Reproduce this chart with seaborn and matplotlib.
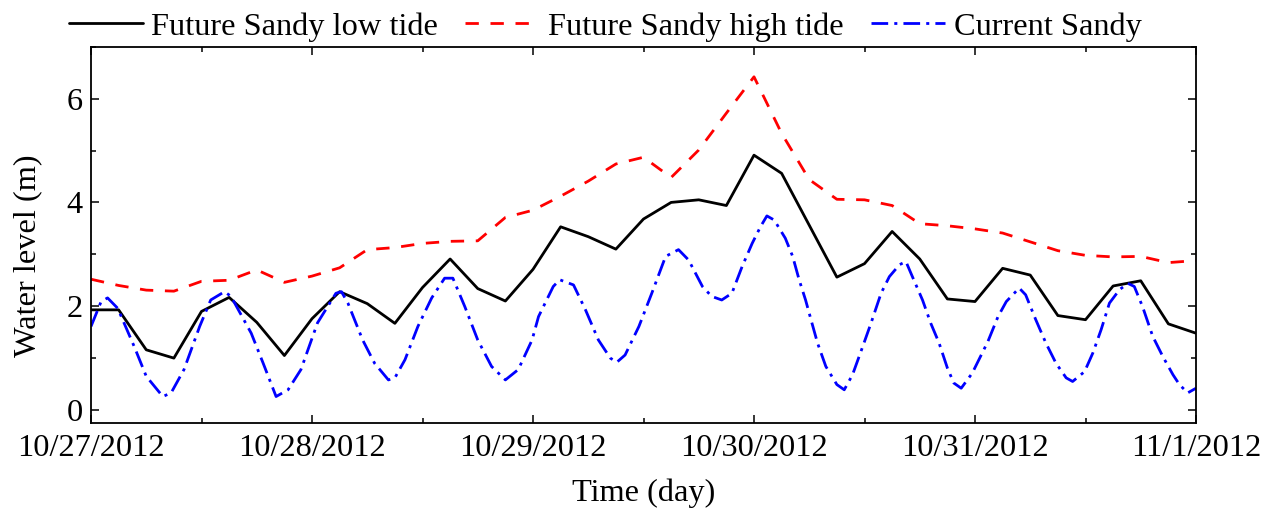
import matplotlib
matplotlib.use("Agg")
import matplotlib.pyplot as plt
import seaborn as sns
import pandas as pd
from matplotlib.ticker import MultipleLocator

# ---------------- data ----------------
day_labels = ["10/27/2012", "10/28/2012", "10/29/2012", "10/30/2012", "10/31/2012", "11/1/2012"]

# 3-hourly model output (hours since 10/27/2012 00:00)
tide_hours = list(range(0, 121, 3))
low_tide = [1.93, 1.93, 1.16, 1.00, 1.90, 2.17, 1.69, 1.05, 1.76, 2.28,
            2.05, 1.67, 2.36, 2.91, 2.34, 2.10, 2.71, 3.53, 3.34, 3.10,
            3.68, 4.00, 4.05, 3.94, 4.91, 4.56, 3.56, 2.56, 2.82, 3.44,
            2.91, 2.14, 2.09, 2.73, 2.60, 1.82, 1.74, 2.39, 2.49, 1.66, 1.48]
high_tide = [2.52, 2.40, 2.31, 2.29, 2.48, 2.50, 2.70, 2.46, 2.58, 2.74,
             3.09, 3.13, 3.21, 3.25, 3.26, 3.71, 3.85, 4.12, 4.41, 4.74,
             4.87, 4.48, 5.01, 5.72, 6.42, 5.33, 4.44, 4.06, 4.05, 3.94,
             3.59, 3.55, 3.49, 3.41, 3.24, 3.07, 2.98, 2.95, 2.96, 2.84, 2.88]

current_hours = [0.0, 1.1, 1.8, 2.9, 4.7, 6.0, 7.8, 8.7, 10.1, 11.8,
                 13.0, 14.5, 15.2, 17.4, 18.7, 20.1, 21.4, 22.8, 24.6, 26.6,
                 27.2, 27.9, 29.5, 30.8, 32.3, 33.0, 34.1, 35.5, 37.0, 38.4,
                 39.3, 40.6, 42.0, 43.5, 45.0, 46.4, 47.9, 48.6, 50.2, 50.9,
                 52.4, 53.7, 55.1, 56.4, 57.1, 58.0, 59.5, 60.9, 62.4, 63.8,
                 64.9, 66.4, 67.4, 68.5, 69.6, 70.7, 71.8, 72.7, 73.4, 74.2,
                 75.4, 76.2, 76.9, 77.6, 78.3, 78.9, 79.8, 81.0, 81.8, 82.7,
                 83.8, 84.7, 85.8, 86.7, 87.8, 88.5, 89.2, 90.3, 91.2, 92.1,
                 93.0, 93.7, 94.5, 95.7, 97.4, 98.5, 99.4, 100.8, 101.5, 102.6,
                 103.7, 104.8, 105.9, 106.6, 107.9, 108.8, 109.7, 110.6, 111.7, 112.6,
                 113.3, 114.2, 115.3, 116.4, 117.5, 118.2, 119.1, 120.0]
current_sandy = [1.61, 2.09, 2.16, 1.96, 1.22, 0.65, 0.26, 0.33, 0.78, 1.61,
                 2.12, 2.28, 2.19, 1.48, 0.90, 0.26, 0.39, 0.78, 1.68, 2.25,
                 2.28, 2.06, 1.35, 0.90, 0.58, 0.62, 0.97, 1.61, 2.16, 2.54,
                 2.54, 1.99, 1.35, 0.84, 0.58, 0.78, 1.35, 1.80, 2.38, 2.51,
                 2.41, 1.93, 1.35, 1.00, 0.92, 1.06, 1.61, 2.25, 2.96, 3.09,
                 2.89, 2.38, 2.19, 2.12, 2.25, 2.76, 3.21, 3.53, 3.74, 3.66,
                 3.31, 2.96, 2.51, 2.12, 1.67, 1.29, 0.84, 0.49, 0.39, 0.68,
                 1.22, 1.67, 2.25, 2.57, 2.80, 2.86, 2.57, 2.12, 1.67, 1.29,
                 0.81, 0.52, 0.42, 0.71, 1.32, 1.80, 2.09, 2.35, 2.22, 1.74,
                 1.29, 0.90, 0.62, 0.55, 0.74, 1.10, 1.55, 2.06, 2.32, 2.44,
                 2.38, 1.99, 1.42, 1.03, 0.68, 0.49, 0.33, 0.42]

series_names = ["Future Sandy low tide", "Future Sandy high tide", "Current Sandy"]

# ---------------- style ----------------
sns.set_style("ticks")
plt.rcParams["font.family"] = ["Liberation Serif", "DejaVu Serif"]
for key in ["text.color", "axes.labelcolor", "xtick.color", "ytick.color", "axes.edgecolor"]:
    plt.rcParams[key] = "black"
FS = 23.3

fig = plt.figure(figsize=(12.75, 5.08), dpi=100)
ax = fig.add_axes([91 / 1275, 1 - 423 / 508, (1196 - 91) / 1275, (423 - 46.7) / 508])

df_tide = pd.DataFrame({"hours": tide_hours, "low": low_tide, "high": high_tide})
df_cur = pd.DataFrame({"hours": current_hours, "cur": current_sandy})

lw = 2.0
sns.lineplot(data=df_tide, x="hours", y="low", ax=ax, color="black", lw=lw,
             sort=False, estimator=None, label=series_names[0])
sns.lineplot(data=df_tide, x="hours", y="high", ax=ax, color="#ff0000", lw=lw,
             ls=(0, (4.8, 4.2)), sort=False, estimator=None, label=series_names[1])
sns.lineplot(data=df_cur, x="hours", y="cur", ax=ax, color="#0000ff", lw=lw,
             ls=(0, (6.0, 2.2, 1.1, 2.2)), sort=False, estimator=None, label=series_names[2])

ax.set_xlim(0, 120)
ax.set_ylim(-0.25, 7.0)
ax.set_xticks(range(0, 121, 24))
ax.set_xticklabels(day_labels)
ax.xaxis.set_minor_locator(MultipleLocator(12))
ax.set_yticks([0, 2, 4, 6])
ax.yaxis.set_minor_locator(MultipleLocator(1))

ax.tick_params(which="both", direction="in", top=True, right=True, width=1.1,
               labelsize=FS, colors="black")
ax.tick_params(axis="x", which="both", pad=8)
ax.tick_params(axis="y", which="both", pad=6)
ax.tick_params(which="major", length=5.5)
ax.tick_params(which="minor", length=3.5)
for s in ax.spines.values():
    s.set_linewidth(1.3)
    s.set_color("black")

ax.set_xlabel("Time (day)", fontsize=FS, labelpad=11)
ax.set_ylabel("Water level (m)", fontsize=FS)
ax.yaxis.set_label_coords(-0.044, 0.444)

handles, labels = ax.get_legend_handles_labels()
ax.get_legend().remove()
fig.legend(handles, labels, loc="center", bbox_to_anchor=(0.4745, 0.947), ncol=3,
           frameon=False, fontsize=FS, handlelength=2.3, handletextpad=0.25,
           columnspacing=0.85, borderaxespad=0, borderpad=0)

fig.savefig("out.png", dpi=100)
